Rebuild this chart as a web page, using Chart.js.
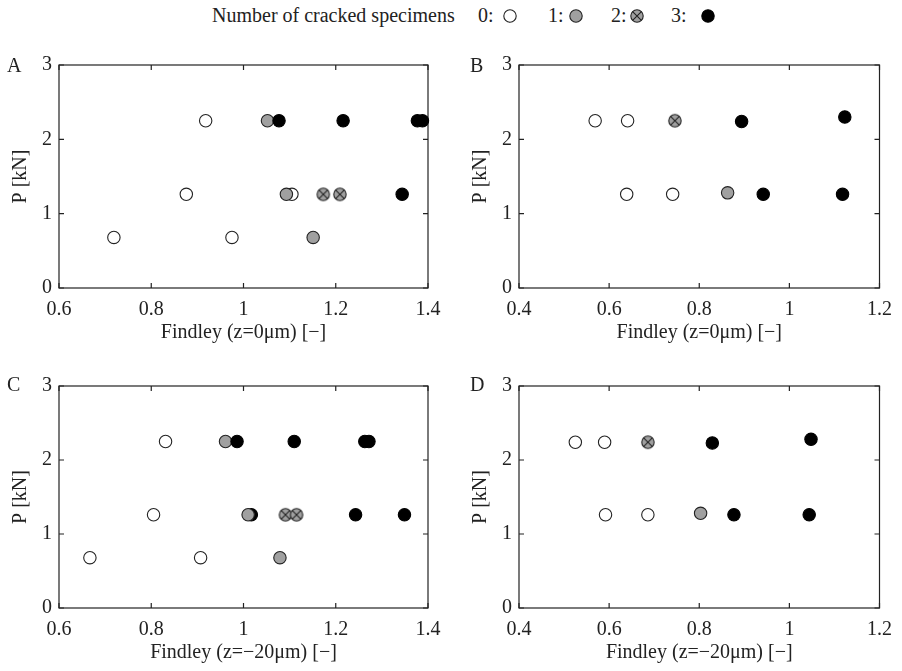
<!DOCTYPE html>
<html>
<head>
<meta charset="utf-8">
<script src="https://cdn.jsdelivr.net/npm/chart.js@4.4.0/dist/chart.umd.min.js"></script>
<style>
  body { margin: 0; background: #fff; width: 902px; height: 671px; position: relative; overflow: hidden;
         font-family: "Liberation Serif", "Times New Roman", serif; color: #222; }
  canvas { position: absolute; }
  .lg { position: absolute; top: 5px; font-size: 20px; line-height: 20px; white-space: nowrap; }
  .mk { position: absolute; top: 8px; }
</style>
</head>
<body>
<div class="lg" style="left:212px">Number of cracked specimens</div>
<div class="lg" style="left:478px">0:</div>
<svg class="mk" style="left:502px" width="16" height="16"><circle cx="8" cy="8" r="6.2" fill="#fff" stroke="#222" stroke-width="1.1"/></svg>
<div class="lg" style="left:548px">1:</div>
<svg class="mk" style="left:568px" width="16" height="16"><circle cx="8" cy="8" r="6.2" fill="#a0a0a0" stroke="#222" stroke-width="1.1"/></svg>
<div class="lg" style="left:611px">2:</div>
<svg class="mk" style="left:629px" width="16" height="16"><circle cx="8" cy="8" r="6.2" fill="#a0a0a0" stroke="#222" stroke-width="1.1"/><path d="M3.6 3.6L12.4 12.4M12.4 3.6L3.6 12.4" stroke="#222" stroke-width="1.1"/></svg>
<div class="lg" style="left:671px">3:</div>
<svg class="mk" style="left:700px" width="16" height="16"><circle cx="8" cy="8" r="6.2" fill="#000" stroke="#000" stroke-width="1.1"/></svg>

<canvas id="pA" width="451" height="311" style="left:0;top:40px"></canvas>
<canvas id="pB" width="451" height="311" style="left:451px;top:40px"></canvas>
<canvas id="pC" width="451" height="311" style="left:0;top:360px"></canvas>
<canvas id="pD" width="451" height="311" style="left:451px;top:360px"></canvas>

<script>
// number of cracked specimens: 0 open, 1 grey, 2 grey with cross, 3 black
const findleyA = [0.719, 0.975, 0.876, 1.105, 0.918, 1.151, 1.093, 1.052, 1.173, 1.209, 1.344, 1.077, 1.216, 1.377, 1.388];
const loadA    = [0.68,  0.68,  1.26,  1.26,  2.25,  0.68,  1.26,  2.25,  1.26,  1.26,  1.26,  2.25,  2.25,  2.25,  2.25];
const crackedA = [0,     0,     0,     0,     0,     1,     1,     1,     2,     2,     3,     3,     3,     3,     3];

const findleyB = [0.569, 0.641, 0.639, 0.741, 0.863, 0.746, 0.894, 1.123, 0.942, 1.118];
const loadB    = [2.25,  2.25,  1.26,  1.26,  1.28,  2.25,  2.24,  2.30,  1.26,  1.26];
const crackedB = [0,     0,     0,     0,     1,     2,     3,     3,     3,     3];

const findleyC = [0.667, 0.907, 0.805, 0.831, 1.079, 0.961, 1.017, 1.010, 1.091, 1.115, 0.986, 1.110, 1.263, 1.272, 1.243, 1.349];
const loadC    = [0.68,  0.68,  1.26,  2.25,  0.68,  2.25,  1.26,  1.26,  1.26,  1.26,  2.25,  2.25,  2.25,  2.25,  1.26,  1.26];
const crackedC = [0,     0,     0,     0,     1,     1,     3,     1,     2,     2,     3,     3,     3,     3,     3,     3];

const findleyD = [0.525, 0.590, 0.592, 0.686, 0.803, 0.686, 0.829, 1.048, 0.877, 1.044];
const loadD    = [2.24,  2.24,  1.26,  1.26,  1.28,  2.24,  2.23,  2.28,  1.26,  1.26];
const crackedD = [0,     0,     0,     0,     1,     2,     3,     3,     3,     3];

const xTicksAC = [0.6, 0.8, 1, 1.2, 1.4];
const xTicksBD = [0.4, 0.6, 0.8, 1, 1.2];
const yTicks = [0, 1, 2, 3];

const FONT = '"Liberation Serif", "Times New Roman", serif';
const INK = '#222';
const GREY = '#a0a0a0';
const fills = ['#fff', GREY, GREY, '#000'];

function crossMarker() {
  const c = document.createElement('canvas');
  c.width = c.height = 16;
  const g = c.getContext('2d');
  g.beginPath();
  g.arc(8, 8, 6.2, 0, Math.PI * 2);
  g.fillStyle = GREY;
  g.fill();
  g.lineWidth = 1.1;
  g.strokeStyle = INK;
  g.stroke();
  const d = 6.2 * Math.SQRT1_2;
  g.beginPath();
  g.moveTo(8 - d, 8 - d); g.lineTo(8 + d, 8 + d);
  g.moveTo(8 + d, 8 - d); g.lineTo(8 - d, 8 + d);
  g.stroke();
  return c;
}
const crossImg = crossMarker();

// box around the axes with inward ticks, plus the panel letter
const boxPlugin = {
  id: 'box',
  beforeDatasetsDraw(chart, args, opts) {
    const { ctx, chartArea: a, scales: { x, y } } = chart;
    ctx.save();
    ctx.strokeStyle = INK;
    ctx.lineWidth = 1.2;
    ctx.strokeRect(a.left, a.top, a.right - a.left, a.bottom - a.top);
    ctx.beginPath();
    x.ticks.forEach(t => {
      const px = x.getPixelForValue(t.value);
      ctx.moveTo(px, a.bottom); ctx.lineTo(px, a.bottom - 5);
      ctx.moveTo(px, a.top); ctx.lineTo(px, a.top + 5);
    });
    y.ticks.forEach(t => {
      const py = y.getPixelForValue(t.value);
      ctx.moveTo(a.left, py); ctx.lineTo(a.left + 5, py);
      ctx.moveTo(a.right, py); ctx.lineTo(a.right - 5, py);
    });
    ctx.stroke();
    ctx.fillStyle = INK;
    ctx.font = '20px ' + FONT;
    ctx.textBaseline = 'alphabetic';
    ctx.fillText(opts.letter, opts.lx, opts.ly);
    ctx.restore();
  }
};

function panel(id, letter, lx, ly, xs, ys, cs, xTicks, xTitle, pad) {
  new Chart(document.getElementById(id), {
    type: 'scatter',
    data: {
      datasets: [{
        data: xs.map((v, i) => ({ x: v, y: ys[i] })),
        pointStyle: ctx => cs[ctx.dataIndex] === 2 ? crossImg : 'circle',
        pointRadius: 6.2,
        pointBorderWidth: 1.1,
        pointBackgroundColor: ctx => fills[cs[ctx.dataIndex]],
        pointBorderColor: ctx => cs[ctx.dataIndex] === 3 ? '#000' : INK,
        clip: false
      }]
    },
    options: {
      responsive: false,
      animation: false,
      events: [],
      layout: { padding: pad },
      plugins: {
        legend: { display: false },
        tooltip: { enabled: false },
        box: { letter, lx, ly }
      },
      scales: {
        x: {
          type: 'linear',
          min: xTicks[0],
          max: xTicks[xTicks.length - 1],
          afterBuildTicks: s => { s.ticks = xTicks.map(v => ({ value: v })); },
          afterFit: s => { s.height = 63; },
          grid: { display: false, drawTicks: false },
          border: { display: false },
          ticks: { color: INK, font: { family: FONT, size: 20 }, padding: 10, maxRotation: 0, autoSkip: false,
                   callback: v => String(v) },
          title: { display: true, text: xTitle, color: INK, font: { family: FONT, size: 20 }, padding: { top: 0, bottom: 6 } }
        },
        y: {
          min: 0,
          max: 3,
          afterBuildTicks: s => { s.ticks = yTicks.map(v => ({ value: v })); },
          afterFit: s => { s.width = 59; },
          grid: { display: false, drawTicks: false },
          border: { display: false },
          ticks: { color: INK, font: { family: FONT, size: 20 }, padding: 7, callback: v => String(v) },
          title: { display: true, text: 'P [kN]', color: INK, font: { family: FONT, size: 20 }, padding: { top: 9, bottom: 0 } }
        }
      }
    },
    plugins: [boxPlugin]
  });
}

panel('pA', 'A', 7, 32, findleyA, loadA, crackedA, xTicksAC, 'Findley (z=0μm) [−]', { left: 0, right: 23, top: 25, bottom: 0 });
panel('pB', 'B', 19, 32, findleyB, loadB, crackedB, xTicksBD, 'Findley (z=0μm) [−]', { left: 9, right: 14, top: 25, bottom: 0 });
panel('pC', 'C', 7, 31, findleyC, loadC, crackedC, xTicksAC, 'Findley (z=−20μm) [−]', { left: 0, right: 23, top: 26, bottom: 0 });
panel('pD', 'D', 19, 31, findleyD, loadD, crackedD, xTicksBD, 'Findley (z=−20μm) [−]', { left: 9, right: 14, top: 26, bottom: 0 });
</script>
</body>
</html>
